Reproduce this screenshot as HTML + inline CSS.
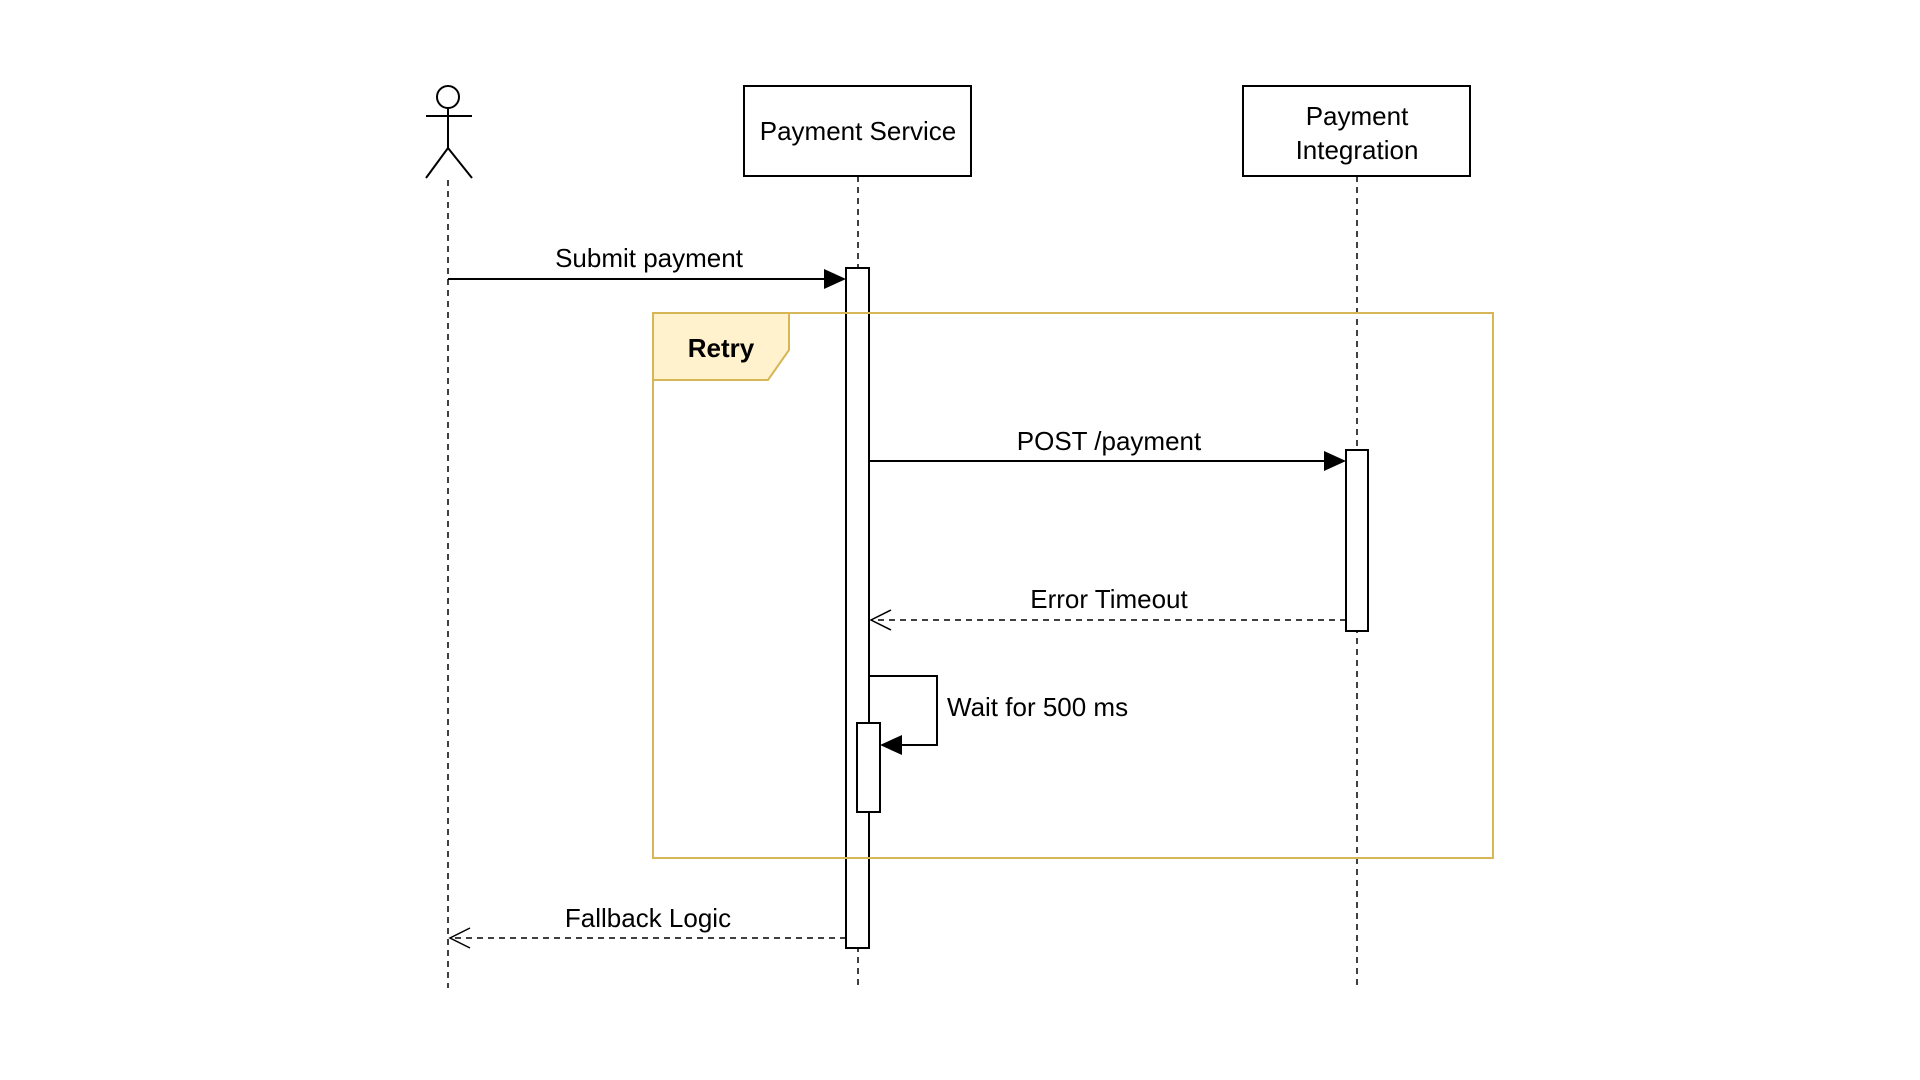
<!DOCTYPE html>
<html><head><meta charset="utf-8"><style>
html,body{margin:0;padding:0;background:#fff;width:1920px;height:1080px;overflow:hidden}
text{font-family:"Liberation Sans",Arial,sans-serif;font-size:26px;fill:#000}
</style></head><body>
<svg width="1920" height="1080" viewBox="0 0 1920 1080" xmlns="http://www.w3.org/2000/svg">
<g stroke="#000" stroke-width="1.5" stroke-dasharray="6,5" fill="none">
<line x1="448" y1="180" x2="448" y2="988"/>
<line x1="858" y1="176" x2="858" y2="988"/>
<line x1="1357" y1="176" x2="1357" y2="988"/>
</g>
<g stroke="#000" stroke-width="2" fill="none">
<circle cx="448" cy="97" r="11"/>
<line x1="448" y1="108" x2="448" y2="148"/>
<line x1="426" y1="116" x2="472" y2="116"/>
<line x1="448" y1="148" x2="426" y2="178"/>
<line x1="448" y1="148" x2="472" y2="178"/>
</g>
<rect x="744" y="86" width="227" height="90" fill="#fff" stroke="#000" stroke-width="2"/>
<text x="858" y="140" text-anchor="middle">Payment Service</text>
<rect x="1243" y="86" width="227" height="90" fill="#fff" stroke="#000" stroke-width="2"/>
<text x="1357" y="125" text-anchor="middle">Payment</text>
<text x="1357" y="159" text-anchor="middle">Integration</text>
<rect x="846" y="268" width="23" height="680" fill="#fff" stroke="#000" stroke-width="2"/>
<rect x="1346" y="450" width="22" height="181" fill="#fff" stroke="#000" stroke-width="2"/>
<rect x="857" y="723" width="23" height="89" fill="#fff" stroke="#000" stroke-width="2"/>
<rect x="653" y="313" width="840" height="545" fill="none" stroke="#d6b656" stroke-width="2"/>
<path d="M653 313 H789 V350 L768 380 H653 Z" fill="#fff2cc" stroke="#d6b656" stroke-width="2"/>
<text x="721" y="357" text-anchor="middle" style="font-weight:bold">Retry</text>
<line x1="448" y1="279" x2="826" y2="279" stroke="#000" stroke-width="2"/>
<path d="M846 279 L824 269 L824 289 Z" fill="#000"/>
<text x="649" y="267" text-anchor="middle">Submit payment</text>
<line x1="869" y1="461" x2="1326" y2="461" stroke="#000" stroke-width="2"/>
<path d="M1346 461 L1324 451 L1324 471 Z" fill="#000"/>
<text x="1109" y="450" text-anchor="middle">POST /payment</text>
<line x1="1346" y1="620" x2="871" y2="620" stroke="#000" stroke-width="1.5" stroke-dasharray="6,5"/>
<path d="M891 610 L871 620 L891 630" fill="none" stroke="#000" stroke-width="1.5"/>
<text x="1109" y="608" text-anchor="middle">Error Timeout</text>
<path d="M869 676 H937 V745 H900" fill="none" stroke="#000" stroke-width="2"/>
<path d="M880 745 L902 735 L902 755 Z" fill="#000"/>
<text x="947" y="716">Wait for 500 ms</text>
<line x1="846" y1="938" x2="450" y2="938" stroke="#000" stroke-width="1.5" stroke-dasharray="6,5"/>
<path d="M470 928 L450 938 L470 948" fill="none" stroke="#000" stroke-width="1.5"/>
<text x="648" y="927" text-anchor="middle">Fallback Logic</text>
</svg>
</body></html>
